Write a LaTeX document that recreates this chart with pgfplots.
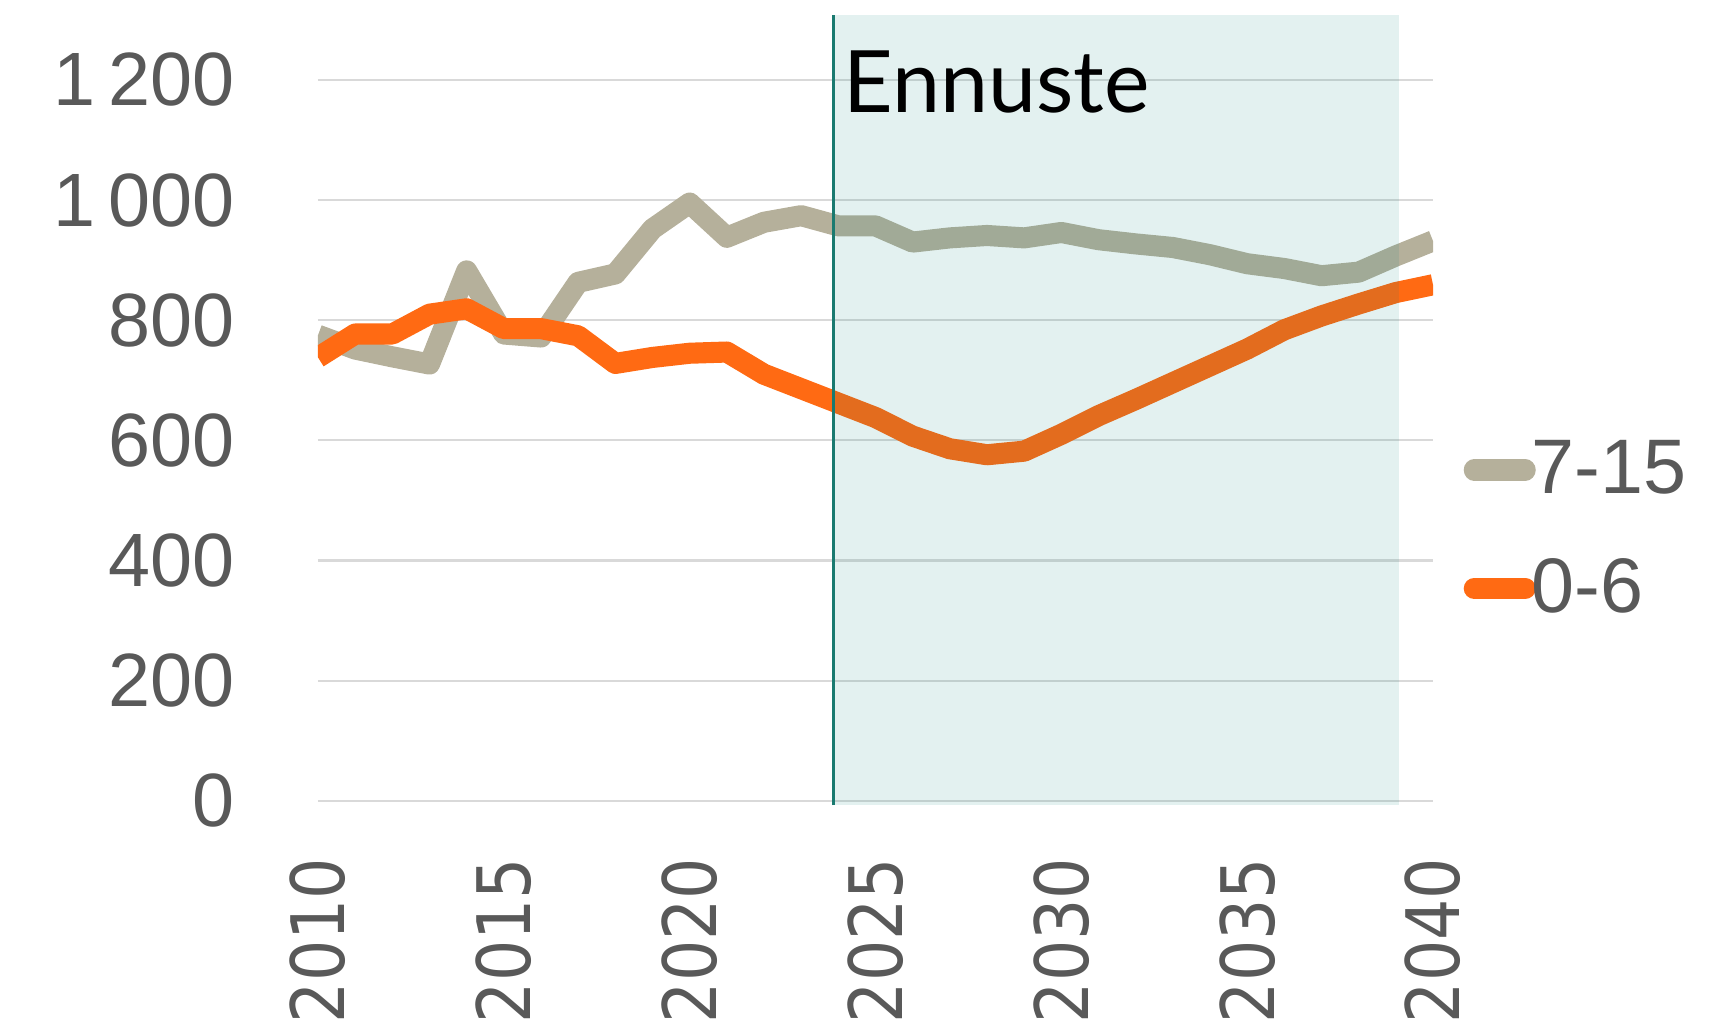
\documentclass[border=0pt]{standalone}
\usepackage{fontspec}
\setmainfont{Liberation Sans}
\newfontfamily\xfont{DejaVu Sans}[FakeStretch=0.88]
\newfontfamily\ennfont{Lato}
\usepackage{pgfplots}
\usepackage{pgfplotstable}
\pgfplotsset{compat=1.18}

\definecolor{grayline}{HTML}{B5B09B}
\definecolor{orangeline}{HTML}{FF6A13}
\definecolor{ticktext}{HTML}{595959}
\definecolor{gridc}{HTML}{D9D9D9}
\definecolor{fline}{HTML}{1A7A70}
\definecolor{shade}{HTML}{00807A}

% age groups per year, 2024 onwards is forecast
\pgfplotstableread{
year age7 age0
2010 775 738
2011 752 777
2012 739 777
2013 727 810
2014 882 819
2015 777 786
2016 772 786
2017 863 774
2018 877 728
2019 952 738
2020 995 745
2021 938 747
2022 963 710
2023 974 686
2024 957 662
2025 957 638
2026 930 607
2027 937 586
2028 941 576
2029 937 582
2030 946 610
2031 934 641
2032 927 668
2033 921 696
2034 909 724
2035 894 752
2036 886 784
2037 874 807
2038 880 827
2039 907 846
2040 932 859
}\agetable

\begin{document}
\begin{tikzpicture}
\path[use as bounding box] (-31.8mm,-22.8mm) rectangle (140.9mm,80.5mm);
\begin{axis}[
    scale only axis, width=111.5mm, height=79.0mm,
    xmin=2010, xmax=2040, ymin=-7, ymax=1308,
    axis line style={draw=none},
    major tick length=0pt,
    xtick={2010,2015,...,2040},
    xticklabels={2010,2015,2020,2025,2030,2035,2040},
    ytick={0,200,...,1200},
    yticklabels={0,200,400,600,800,1\,000,1\,200},
    ymajorgrids, grid style={gridc, line width=0.6pt},
    yticklabel style={font=\fontsize{21.5}{24}\selectfont, text=ticktext,
                      anchor=east, inner sep=0pt},
    yticklabel shift=8.3mm,
    xticklabel style={font=\xfont\fontsize{21}{24}\selectfont, text=ticktext,
                      rotate=90, anchor=east, inner sep=0pt},
    xticklabel shift=5.2mm,
    legend style={at={(1.0269,0.462)}, anchor=north west, draw=none, fill=none,
                  inner sep=0pt, row sep=5.95mm, column sep=-0.4mm,
                  font=\fontsize{22}{24}\selectfont, text=ticktext,
                  nodes={inner sep=0pt}},
    legend cell align=left,
    legend image code/.code={\draw[#1, line cap=round] (0mm,0mm) -- (5.1mm,0mm);},
]
\addplot[grayline, line width=6pt, line join=round] table[x=year, y=age7] {\agetable};
\addlegendentry{7-15}
\addplot[orangeline, line width=6pt, line join=round] table[x=year, y=age0] {\agetable};
\addlegendentry{0-6}
% forecast area
\addplot[draw=none, fill=shade, fill opacity=0.11, forget plot] coordinates {
(2023.87,-7) (2039.08,-7) (2039.08,1308) (2023.87,1308)} -- cycle;
\addplot[fline, line width=0.7pt, forget plot] coordinates {(2023.87,-7) (2023.87,1308)};
\node[anchor=base west, inner sep=0pt, font=\ennfont\fontsize{24.5}{28}\selectfont]
    at (axis cs:2024.12,1145) {Ennuste};
\end{axis}
\end{tikzpicture}
\end{document}
